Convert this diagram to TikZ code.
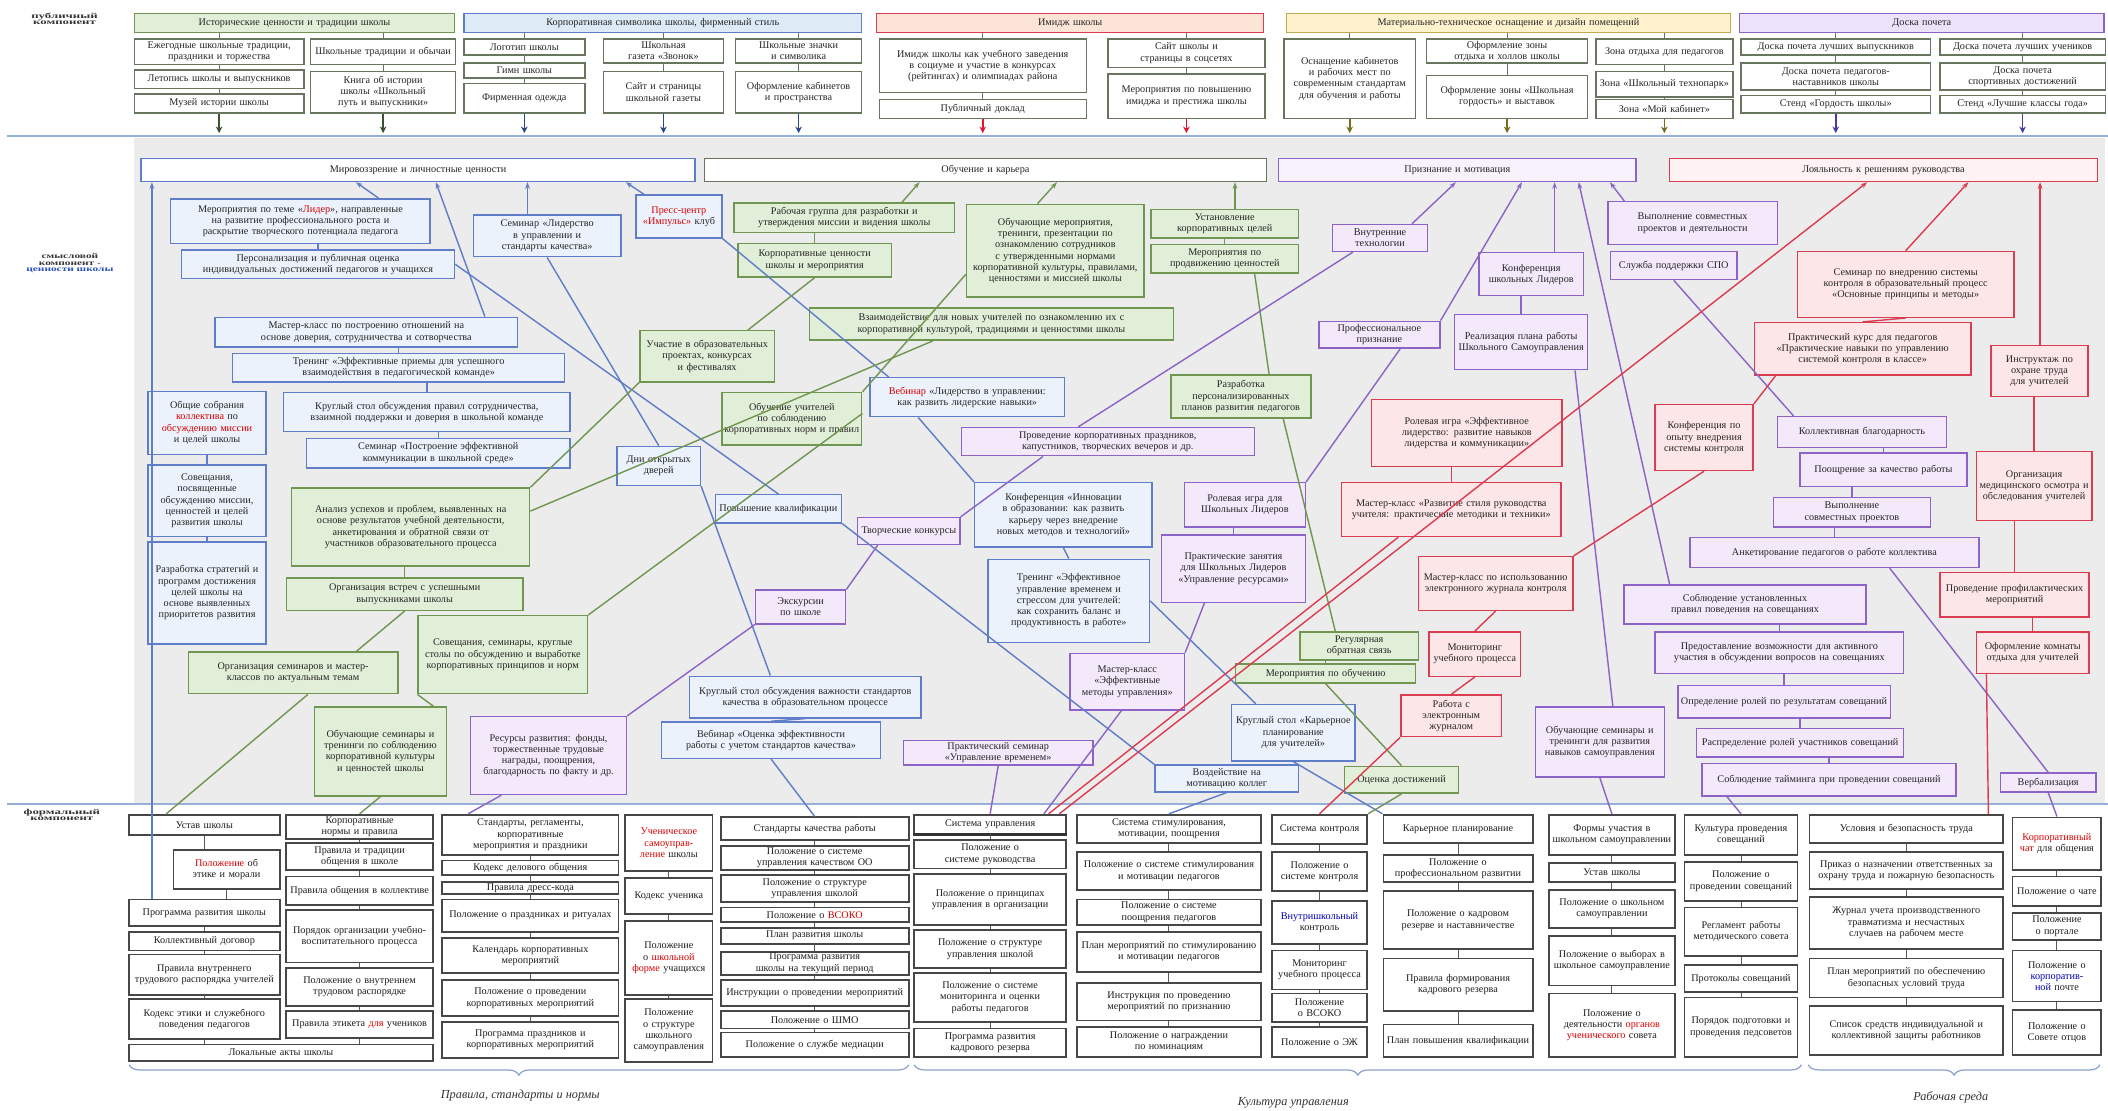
\documentclass[tikz,border=0pt]{standalone}
\usepackage{fontspec}
\setmainfont{Liberation Serif}
\usetikzlibrary{arrows.meta, calc, decorations.pathreplacing}

\definecolor{panel}{RGB}{236,236,236}
\definecolor{sepblue}{RGB}{150,175,215}
\definecolor{blbd}{RGB}{95,125,200}
\definecolor{blfill}{RGB}{235,242,251}
\definecolor{grbd}{RGB}{112,150,82}
\definecolor{grfill}{RGB}{226,239,216}
\definecolor{pubd}{RGB}{140,100,200}
\definecolor{pufill}{RGB}{243,233,250}
\definecolor{rdbd}{RGB}{220,60,80}
\definecolor{rdfill}{RGB}{253,230,232}
\definecolor{subbd}{RGB}{105,118,95}
\definecolor{ylbd}{RGB}{190,170,80}
\definecolor{ylfill}{RGB}{255,242,204}
\definecolor{tbfill}{RGB}{221,235,247}
\definecolor{trfill}{RGB}{252,228,214}
\definecolor{tpfill}{RGB}{236,226,250}
\definecolor{brc}{RGB}{140,160,205}
\definecolor{arGc}{RGB}{60,80,50}
\definecolor{arBc}{RGB}{40,70,140}
\definecolor{arRc}{RGB}{230,20,50}
\definecolor{arYc}{RGB}{120,110,30}
\definecolor{arPc}{RGB}{70,60,160}
\definecolor{lblblue}{RGB}{40,80,190}

\newcommand{\rwd}[1]{\textcolor{red!85!black}{#1}}
\newcommand{\bwd}[1]{\textcolor{blue!70!black}{#1}}

% box from corner (x1,y1) to (x2,y2), picture units
\newcommand{\cbox}[7]{%
  \pgfmathsetmacro{\bxw}{(#5-#3)*1.42264}%
  \pgfmathsetmacro{\bxh}{(#6-#4)*1.42264}%
  \pgfmathsetmacro{\bxt}{(#5-#3)*1.42264-5}%
  \node[#1, minimum width=\bxw pt, minimum height=\bxh pt, text width=\bxt pt]
    (#2) at ({(#3+#5)/2},{(#4+#6)/2}) {#7};}

\begin{document}
\begin{tikzpicture}[x=0.05cm, y=-0.05cm,
  box/.style={draw, line width=1.5pt, inner xsep=2pt, inner ysep=0.5pt, align=center,
    font=\fontsize{10.8}{11.9}\selectfont, text=black!85},
  blbox/.style={box, draw=blbd, fill=blfill},
  grbox/.style={box, draw=grbd, fill=grfill},
  pubox/.style={box, draw=pubd, fill=pufill},
  rdbox/.style={box, draw=rdbd, fill=rdfill},
  sub/.style={box, draw=subbd, fill=white},
  hdG/.style={box, draw=grbd, fill=grfill},
  hdB/.style={box, draw=blbd, fill=tbfill},
  hdR/.style={box, draw=rdbd, fill=trfill},
  hdY/.style={box, draw=ylbd, fill=ylfill},
  hdP/.style={box, draw=pubd, fill=tpfill},
  hmB/.style={box, draw=blbd, fill=white},
  hmG/.style={box, draw=subbd, fill=white},
  hmP/.style={box, draw=pubd, fill=pufill!60},
  hmR/.style={box, draw=rdbd, fill=rdfill!50},
  fbox/.style={box, draw=black!72, line width=1.9pt, fill=white, text=black!88},
  bline/.style={draw=blbd, line width=1.5pt},
  gline/.style={draw=grbd, line width=1.5pt},
  pline/.style={draw=pubd, line width=1.5pt},
  rline/.style={draw=rdbd, line width=1.5pt},
  blarr/.style={bline, -{Stealth[length=7pt,width=5pt]}},
  garr/.style={gline, -{Stealth[length=7pt,width=5pt]}},
  parr/.style={pline, -{Stealth[length=7pt,width=5pt]}},
  rarr/.style={rline, -{Stealth[length=7pt,width=5pt]}},
  tlink/.style={draw=subbd, line width=1pt},
  fline/.style={draw=black!65, line width=1pt},
  arG/.style={draw=arGc, line width=1.6pt, -{Stealth[length=7pt,width=7pt]}},
  arB/.style={draw=arBc, line width=1.6pt, -{Stealth[length=7pt,width=7pt]}},
  arR/.style={draw=arRc, line width=1.6pt, -{Stealth[length=7pt,width=7pt]}},
  arY/.style={draw=arYc, line width=1.6pt, -{Stealth[length=7pt,width=7pt]}},
  arP/.style={draw=arPc, line width=1.6pt, -{Stealth[length=7pt,width=7pt]}},
  sepline/.style={draw=sepblue, line width=2.5pt},
  bracket/.style={draw=brc, line width=1.3pt, decorate,
    decoration={brace, mirror, amplitude=11pt}},
  brlbl/.style={font=\fontsize{13}{13}\selectfont\itshape, text=black!80},
  sidelbl/.style={font=\fontsize{8}{8.6}\selectfont\bfseries, text=black!80, inner sep=0pt}]

\useasboundingbox (0,0) rectangle (1568,826);

% background and bands
\fill[panel] (100,103) rectangle (1566,597);
\draw[sepline] (5,101) -- (1568,101);
\draw[sepline] (5,598) -- (1568,598);

\node[sidelbl] (lpub) at (48,15) {\scalebox{1.7}[1]{\begin{tabular}{@{}c@{}}публичный\\[-2pt]компонент\end{tabular}}};
\node[sidelbl] (lsm) at (52,196) {\scalebox{1.5}[1]{\begin{tabular}{@{}c@{}}смысловой\\[-2pt]компонент -\\[-2pt]\textcolor{lblblue}{ценности школы}\end{tabular}}};
\node[sidelbl] (lfor) at (46,607) {\scalebox{1.7}[1]{\begin{tabular}{@{}c@{}}формальный\\[-2pt]компонент\end{tabular}}};

% ---- public component ----
\cbox{hdG}{T1}{100}{10}{338}{24}{Исторические ценности и традиции школы}
\cbox{sub}{t1a}{100}{29}{226}{48}{Ежегодные школьные традиции, праздники и торжества}
\cbox{sub}{t1b}{100}{52}{226}{66}{Летопись школы и выпускников}
\cbox{sub}{t1c}{100}{70}{226}{84}{Музей истории школы}
\cbox{sub}{t1d}{231}{29}{339}{48}{Школьные традиции и обычаи}
\cbox{sub}{t1e}{231}{53}{339}{84}{Книга об истории школы «Школьный путь и выпускники»}

\cbox{hdB}{T2}{345}{10}{641}{24}{Корпоративная символика школы, фирменный стиль}
\cbox{sub}{t2a}{345}{29}{435}{41}{Логотип школы}
\cbox{sub}{t2b}{345}{47}{435}{58}{Гимн школы}
\cbox{sub}{t2c}{345}{62}{435}{84}{Фирменная одежда}
\cbox{sub}{t2d}{449}{29}{538}{47}{Школьная газета «Звонок»}
\cbox{sub}{t2e}{449}{53}{538}{84}{Сайт и страницы школьной газеты}
\cbox{sub}{t2f}{547}{29}{641}{47}{Школьные значки и символика}
\cbox{sub}{t2g}{547}{53}{641}{84}{Оформление кабинетов и пространства}

\cbox{hdR}{T3}{652}{10}{940}{24}{Имидж школы}
\cbox{sub}{t3a}{654}{29}{808}{69}{Имидж школы как учебного заведения в социуме и участие в конкурсах (рейтингах) и олимпиадах района}
\cbox{sub}{t3b}{654}{74}{808}{88}{Публичный доклад}
\cbox{sub}{t3c}{824}{29}{941}{50}{Сайт школы и страницы в соцсетях}
\cbox{sub}{t3d}{824}{55}{941}{88}{Мероприятия по повышению имиджа и престижа школы}

\cbox{hdY}{T4}{957}{10}{1287}{24}{Материально-техническое оснащение и дизайн помещений}
\cbox{sub}{t4a}{955}{29}{1053}{88}{Оснащение кабинетов и рабочих мест по современным стандартам для обучения и работы}
\cbox{sub}{t4b}{1061}{29}{1181}{47}{Оформление зоны отдыха и холлов школы}
\cbox{sub}{t4c}{1061}{56}{1181}{88}{Оформление зоны «Школьная гордость» и выставок}
\cbox{sub}{t4d}{1187}{29}{1289}{48}{Зона отдыха для педагогов}
\cbox{sub}{t4e}{1187}{53}{1289}{72}{Зона «Школьный технопарк»}
\cbox{sub}{t4f}{1187}{74}{1289}{88}{Зона «Мой кабинет»}

\cbox{hdP}{T5}{1294}{10}{1565}{24}{Доска почета}
\cbox{sub}{t5a}{1295}{29}{1436}{41}{Доска почета лучших выпускников}
\cbox{sub}{t5b}{1295}{47}{1436}{67}{Доска почета педагогов-наставников школы}
\cbox{sub}{t5c}{1295}{71}{1436}{84}{Стенд «Гордость школы»}
\cbox{sub}{t5d}{1443}{29}{1566}{41}{Доска почета лучших учеников}
\cbox{sub}{t5e}{1443}{47}{1566}{67}{Доска почета спортивных достижений}
\cbox{sub}{t5f}{1443}{71}{1566}{84}{Стенд «Лучшие классы года»}

\foreach \u/\v in {T1/t1a,t1a/t1b,t1b/t1c,T1/t1d,t1d/t1e,T2/t2a,t2a/t2b,t2b/t2c,T2/t2d,t2d/t2e,
    T2/t2f,t2f/t2g,T3/t3a,t3a/t3b,T3/t3c,t3c/t3d,T4/t4a,T4/t4b,t4b/t4c,T4/t4d,t4d/t4e,t4e/t4f,
    T5/t5a,t5a/t5b,t5b/t5c,T5/t5d,t5d/t5e,t5e/t5f}
  \draw[tlink] (\v.north) -- (\v.north |- \u.south);

\coordinate (sepT) at (0,99);
\foreach \b/\c in {t1c/arG,t1e/arG,t2c/arB,t2e/arB,t2g/arB,t3b/arR,t3d/arR,
    t4a/arY,t4c/arY,t4f/arY,t5c/arP,t5f/arP}
  \draw[\c] (\b.south) -- (\b.south |- sepT);

% ---- meaning component: headers ----
\cbox{hmB}{H1}{105}{118}{517}{135}{Мировоззрение и личностные ценности}
\cbox{hmG}{H2}{524}{118}{942}{135}{Обучение и карьера}
\cbox{hmP}{H3}{951}{118}{1217}{135}{Признание и мотивация}
\cbox{hmR}{H4}{1242}{118}{1560}{135}{Лояльность к решениям руководства}

\coordinate (h1a) at ($(H1.south west)!.388!(H1.south east)$);
\coordinate (h1b) at ($(H1.south west)!.532!(H1.south east)$);
\coordinate (h1c) at ($(H1.south west)!.697!(H1.south east)$);
\coordinate (h1d) at ($(H1.south west)!.874!(H1.south east)$);
\coordinate (h2a) at ($(H2.south west)!.383!(H2.south east)$);
\coordinate (h2b) at ($(H2.south west)!.627!(H2.south east)$);
\coordinate (h2c) at ($(H2.south west)!.943!(H2.south east)$);
\coordinate (h3a) at ($(H3.south west)!.496!(H3.south east)$);
\coordinate (h3b) at ($(H3.south west)!.680!(H3.south east)$);
\coordinate (h3c) at ($(H3.south west)!.771!(H3.south east)$);
\coordinate (h3d) at ($(H3.south west)!.838!(H3.south east)$);
\coordinate (h3e) at ($(H3.south west)!.925!(H3.south east)$);
\coordinate (h4a) at ($(H4.south west)!.462!(H4.south east)$);
\coordinate (h4b) at ($(H4.south west)!.698!(H4.south east)$);
\coordinate (h4c) at ($(H4.south west)!.865!(H4.south east)$);

% blue
\cbox{blbox}{B1}{127}{148}{320}{181}{Мероприятия по теме «\rwd{Лидер}», направленные на развитие профессионального роста и раскрытие творческого потенциала педагога}
\cbox{blbox}{B2}{135}{186}{338}{207}{Персонализация и публичная оценка индивидуальных достижений педагогов и учащихся}
\cbox{blbox}{B3}{352}{160}{462}{191}{Семинар «Лидерство в управлении и стандарты качества»}
\cbox{blbox}{B4}{473}{145}{537}{177}{\rwd{Пресс-центр} \rwd{«Импульс»} клуб}
\cbox{blbox}{B5}{160}{236}{385}{258}{Мастер-класс по построению отношений на основе доверия, сотрудничества и сотворчества}
\cbox{blbox}{B6}{173}{263}{420}{284}{Тренинг «Эффективные приемы для успешного взаимодействия в педагогической команде»}
\cbox{blbox}{B7}{110}{291}{198}{338}{Общие собрания \rwd{коллектива} по \rwd{обсуждению} \rwd{миссии} и целей школы}
\cbox{blbox}{B8}{211}{292}{424}{321}{Круглый стол обсуждения правил сотрудничества, взаимной поддержки и доверия в школьной команде}
\cbox{blbox}{B9}{228}{326}{424}{348}{Семинар «Построение эффективной коммуникации в школьной среде»}
\cbox{blbox}{B10}{110}{346}{198}{399}{Совещания, посвященные обсуждению миссии, ценностей и целей развития школы}
\cbox{blbox}{B11}{110}{403}{198}{479}{Разработка стратегий и программ достижения целей школы на основе выявленных приоритетов развития}
\cbox{blbox}{B12}{459}{332}{521}{361}{Дни открытых дверей}
\cbox{blbox}{B13}{532}{368}{626}{389}{Повышение квалификации}
\cbox{blbox}{B14}{647}{281}{792}{310}{\rwd{Вебинар} «Лидерство в управлении: как развить лидерские навыки»}
\cbox{blbox}{B15}{725}{359}{857}{407}{Конференция «Инновации в образовании: как развить карьеру через внедрение новых методов и технологий»}
\cbox{blbox}{B16}{735}{416}{855}{478}{Тренинг «Эффективное управление временем и стрессом для учителей: как сохранить баланс и продуктивность в работе»}
\cbox{blbox}{B17}{513}{503}{685}{534}{Круглый стол обсуждения важности стандартов качества в образовательном процессе}
\cbox{blbox}{B18}{492}{537}{655}{564}{Вебинар «Оценка эффективности работы с учетом стандартов качества»}
\cbox{blbox}{B19}{916}{524}{1008}{566}{Круглый стол «Карьерное планирование для учителей»}
\cbox{blbox}{B20}{859}{569}{966}{589}{Воздействие на мотивацию коллег}

% green
\cbox{grbox}{G1}{546}{151}{710}{173}{Рабочая группа для разработки и утверждения миссии и видения школы}
\cbox{grbox}{G2}{549}{181}{663}{206}{Корпоративные ценности школы и мероприятия}
\cbox{grbox}{G3}{719}{152}{851}{221}{Обучающие мероприятия, тренинги, презентации по ознакомлению сотрудников с утвержденными нормами корпоративной культуры, правилами, ценностями и миссией школы}
\cbox{grbox}{G4}{856}{156}{966}{177}{Установление корпоративных целей}
\cbox{grbox}{G5}{856}{182}{966}{203}{Мероприятия по продвижению ценностей}
\cbox{grbox}{G6}{602}{229}{873}{253}{Взаимодействие для новых учителей по ознакомлению их с корпоративной культурой, традициями и ценностями школы}
\cbox{grbox}{G7}{476}{246}{576}{284}{Участие в образовательных проектах, конкурсах и фестивалях}
\cbox{grbox}{G8}{537}{292}{641}{331}{Обучение учителей по соблюдению корпоративных норм и правил}
\cbox{grbox}{G9}{871}{279}{975}{311}{Разработка персонализированных планов развития педагогов}
\cbox{grbox}{G10}{217}{363}{394}{421}{Анализ успехов и проблем, выявленных на основе результатов учебной деятельности, анкетирования и обратной связи от участников образовательного процесса}
\cbox{grbox}{G11}{213}{430}{389}{454}{Организация встреч с успешными выпускниками школы}
\cbox{grbox}{G12}{311}{458}{437}{516}{Совещания, семинары, круглые столы по обсуждению и выработке корпоративных принципов и норм}
\cbox{grbox}{G13}{140}{485}{296}{516}{Организация семинаров и мастер-классов по актуальным темам}
\cbox{grbox}{G14}{234}{526}{332}{592}{Обучающие семинары и тренинги по соблюдению корпоративной культуры и ценностей школы}
\cbox{grbox}{G15}{967}{470}{1055}{491}{Регулярная обратная связь}
\cbox{grbox}{G16}{919}{494}{1053}{508}{Мероприятия по обучению}
\cbox{grbox}{G17}{1000}{570}{1085}{590}{Оценка достижений}

% purple
\cbox{pubox}{P1}{991}{167}{1062}{187}{Внутренние технологии}
\cbox{pubox}{P2}{981}{239}{1071}{259}{Профессиональное признание}
\cbox{pubox}{P3}{1100}{188}{1178}{220}{Конференция школьных Лидеров}
\cbox{pubox}{P4}{1082}{234}{1181}{275}{Реализация плана работы Школьного Самоуправления}
\cbox{pubox}{P5}{1196}{150}{1322}{182}{Выполнение совместных проектов и деятельности}
\cbox{pubox}{P6}{1198}{187}{1292}{208}{Служба поддержки СПО}
\cbox{pubox}{P7}{715}{318}{933}{339}{Проведение корпоративных праздников, капустников, творческих вечеров и др.}
\cbox{pubox}{P8}{638}{385}{714}{405}{Творческие конкурсы}
\cbox{pubox}{P9}{562}{439}{629}{464}{Экскурсии по школе}
\cbox{pubox}{P10}{881}{359}{971}{392}{Ролевая игра для Школьных Лидеров}
\cbox{pubox}{P11}{864}{398}{971}{448}{Практические занятия для Школьных Лидеров «Управление ресурсами»}
\cbox{pubox}{P12}{796}{486}{881}{528}{Мастер-класс «Эффективные методы управления»}
\cbox{pubox}{P13}{672}{551}{813}{569}{Практический семинар «Управление временем»}
\cbox{pubox}{P14}{350}{533}{466}{591}{Ресурсы развития: фонды, торжественные трудовые награды, поощрения, благодарность по факту и др.}
\cbox{pubox}{P15}{1322}{310}{1448}{333}{Коллективная благодарность}
\cbox{pubox}{P16}{1339}{337}{1463}{362}{Поощрение за качество работы}
\cbox{pubox}{P17}{1319}{370}{1436}{392}{Выполнение совместных проектов}
\cbox{pubox}{P18}{1257}{400}{1472}{422}{Анкетирование педагогов о работе коллектива}
\cbox{pubox}{P19}{1208}{435}{1388}{464}{Соблюдение установленных правил поведения на совещаниях}
\cbox{pubox}{P20}{1231}{470}{1416}{501}{Предоставление возможности для активного участия в обсуждении вопросов на совещаниях}
\cbox{pubox}{P21}{1248}{510}{1406}{534}{Определение ролей по результатам совещаний}
\cbox{pubox}{P22}{1262}{542}{1416}{563}{Распределение ролей участников совещаний}
\cbox{pubox}{P23}{1266}{568}{1455}{592}{Соблюдение тайминга при проведении совещаний}
\cbox{pubox}{P24}{1142}{526}{1238}{578}{Обучающие семинары и тренинги для развития навыков самоуправления}
\cbox{pubox}{P25}{1488}{575}{1559}{589}{Вербализация}

% red
\cbox{rdbox}{R1}{1337}{187}{1498}{236}{Семинар по внедрению системы контроля в образовательный процесс «Основные принципы и методы»}
\cbox{rdbox}{R2}{1305}{240}{1466}{279}{Практический курс для педагогов «Практические навыки по управлению системой контроля в классе»}
\cbox{rdbox}{R3}{1481}{257}{1553}{295}{Инструктаж по охране труда для учителей}
\cbox{rdbox}{R4}{1020}{297}{1162}{347}{Ролевая игра «Эффективное лидерство: развитие навыков лидерства и коммуникации»}
\cbox{rdbox}{R5}{1231}{301}{1304}{350}{Конференция по опыту внедрения системы контроля}
\cbox{rdbox}{R6}{998}{359}{1161}{399}{Мастер-класс «Развитие стиля руководства учителя: практические методики и техники»}
\cbox{rdbox}{R7}{1055}{414}{1170}{454}{Мастер-класс по использованию электронного журнала контроля}
\cbox{rdbox}{R8}{1063}{470}{1131}{503}{Мониторинг учебного процесса}
\cbox{rdbox}{R9}{1042}{517}{1117}{548}{Работа с электронным журналом}
\cbox{rdbox}{R10}{1470}{336}{1556}{387}{Организация медицинского осмотра и обследования учителей}
\cbox{rdbox}{R11}{1443}{426}{1554}{459}{Проведение профилактических мероприятий}
\cbox{rdbox}{R12}{1470}{470}{1554}{501}{Оформление комнаты отдыха для учителей}

% ---- formal component ----
\cbox{fbox}{bA1}{96}{606}{208}{621}{Устав школы}
\cbox{fbox}{bA2}{129}{632}{208}{661}{\rwd{Положение} об этике и морали}
\cbox{fbox}{bA3}{96}{669}{208}{689}{Программа развития школы}
\cbox{fbox}{bA4}{96}{693}{208}{707}{Коллективный договор}
\cbox{fbox}{bA5}{96}{710}{208}{740}{Правила внутреннего трудового распорядка учителей}
\cbox{fbox}{bA6}{96}{743}{208}{773}{Кодекс этики и служебного поведения педагогов}
\cbox{fbox}{bAB}{96}{777}{322}{789}{Локальные акты школы}

\cbox{fbox}{bB1}{213}{606}{322}{624}{Корпоративные нормы и правила}
\cbox{fbox}{bB2}{213}{627}{322}{647}{Правила и традиции общения в школе}
\cbox{fbox}{bB3}{213}{652}{322}{673}{Правила общения в коллективе}
\cbox{fbox}{bB4}{213}{677}{322}{716}{Порядок организации учебно-воспитательного процесса}
\cbox{fbox}{bB5}{213}{720}{322}{748}{Положение о внутреннем трудовом распорядке}
\cbox{fbox}{bB6}{213}{752}{322}{772}{Правила этикета \rwd{для} учеников}

\cbox{fbox}{bC1}{329}{606}{460}{636}{Стандарты, регламенты, корпоративные мероприятия и праздники}
\cbox{fbox}{bC2}{329}{640}{460}{651}{Кодекс делового общения}
\cbox{fbox}{bC3}{329}{656}{460}{665}{Правила дресс-кода}
\cbox{fbox}{bC4}{329}{669}{460}{693}{Положение о праздниках и ритуалах}
\cbox{fbox}{bC5}{329}{698}{460}{724}{Календарь корпоративных мероприятий}
\cbox{fbox}{bC6}{329}{729}{460}{756}{Положение о проведении корпоративных мероприятий}
\cbox{fbox}{bC7}{329}{760}{460}{787}{Программа праздников и корпоративных мероприятий}

\cbox{fbox}{bD1}{465}{606}{530}{648}{\rwd{Ученическое} \rwd{самоуправ\-ление} школы}
\cbox{fbox}{bD2}{465}{653}{530}{680}{Кодекс ученика}
\cbox{fbox}{bD3}{465}{685}{530}{740}{Положение о \rwd{школьной} \rwd{форме} учащихся}
\cbox{fbox}{bD4}{465}{743}{530}{790}{Положение о структуре школьного самоуправ\-ления}

\cbox{fbox}{bE1}{536}{608}{676}{625}{Стандарты качества работы}
\cbox{fbox}{bE2}{536}{629}{676}{647}{Положение о системе управления качеством ОО}
\cbox{fbox}{bE3}{536}{651}{676}{671}{Положение о структуре управления школой}
\cbox{fbox}{bE4}{536}{675}{676}{686}{Положение о \rwd{ВСОКО}}
\cbox{fbox}{bE5}{536}{690}{676}{702}{План развития школы}
\cbox{fbox}{bE6}{536}{708}{676}{725}{Программа развития школы на текущий период}
\cbox{fbox}{bE7}{536}{729}{676}{748}{Инструкции о проведении мероприятий}
\cbox{fbox}{bE8}{536}{752}{676}{765}{Положение о ШМО}
\cbox{fbox}{bE9}{536}{768}{676}{786}{Положение о службе медиации}

\cbox{fbox}{bF1}{680}{606}{793}{620}{Система управления}
\draw[line width=3pt, black!80] (bF1.south west) -- (bF1.south east);
\cbox{fbox}{bF2}{680}{625}{793}{646}{Положение о системе руководства}
\cbox{fbox}{bF3}{680}{650}{793}{688}{Положение о принципах управления в организации}
\cbox{fbox}{bF4}{680}{692}{793}{720}{Положение о структуре управления школой}
\cbox{fbox}{bF5}{680}{724}{793}{760}{Положение о системе мониторинга и оценки работы педагогов}
\cbox{fbox}{bF6}{680}{765}{793}{786}{Программа развития кадрового резерва}

\cbox{fbox}{bG1}{801}{606}{938}{627}{Система стимулирования, мотивации, поощрения}
\cbox{fbox}{bG2}{801}{634}{938}{662}{Положение о системе стимулирования и мотивации педагогов}
\cbox{fbox}{bG3}{801}{669}{938}{688}{Положение о системе поощрения педагогов}
\cbox{fbox}{bG4}{801}{693}{938}{723}{План мероприятий по стимулированию и мотивации педагогов}
\cbox{fbox}{bG5}{801}{731}{938}{759}{Инструкция по проведению мероприятий по признанию}
\cbox{fbox}{bG6}{801}{764}{938}{786}{Положение о награждении по номинациям}

\cbox{fbox}{bH1}{946}{606}{1017}{628}{Система контроля}
\cbox{fbox}{bH2}{946}{634}{1017}{663}{Положение о системе контроля}
\cbox{fbox}{bH3}{946}{670}{1017}{702}{\bwd{Внутри\-школьный} контроль}
\cbox{fbox}{bH4}{946}{707}{1017}{736}{Мониторинг учебного процесса}
\cbox{fbox}{bH5}{946}{739}{1017}{760}{Положение о ВСОКО}
\cbox{fbox}{bH6}{946}{764}{1017}{786}{Положение о ЭЖ}

\cbox{fbox}{bI1}{1029}{606}{1140}{627}{Карьерное планирование}
\cbox{fbox}{bI2}{1029}{636}{1140}{656}{Положение о профессиональном развитии}
\cbox{fbox}{bI3}{1029}{663}{1140}{706}{Положение о кадровом резерве и наставничестве}
\cbox{fbox}{bI4}{1029}{713}{1140}{752}{Правила формирования кадрового резерва}
\cbox{fbox}{bI5}{1029}{762}{1140}{786}{План повышения квалификации}

\cbox{fbox}{bJ1}{1152}{606}{1246}{636}{Формы участия в школьном самоуправлении}
\cbox{fbox}{bJ2}{1152}{642}{1246}{656}{Устав школы}
\cbox{fbox}{bJ3}{1152}{662}{1246}{690}{Положение о школьном самоуправлении}
\cbox{fbox}{bJ4}{1152}{696}{1246}{733}{Положение о выборах в школьное самоуправление}
\cbox{fbox}{bJ5}{1152}{739}{1246}{786}{Положение о деятельности \rwd{органов} \rwd{ученического} совета}

\cbox{fbox}{bK1}{1253}{606}{1337}{636}{Культура проведения совещаний}
\cbox{fbox}{bK2}{1253}{641}{1337}{670}{Положение о проведении совещаний}
\cbox{fbox}{bK3}{1253}{675}{1337}{711}{Регламент работы методического совета}
\cbox{fbox}{bK4}{1253}{718}{1337}{738}{Протоколы совещаний}
\cbox{fbox}{bK5}{1253}{742}{1337}{786}{Порядок подготовки и проведения педсоветов}

\cbox{fbox}{bL1}{1346}{606}{1490}{627}{Условия и безопасность труда}
\cbox{fbox}{bL2}{1346}{634}{1490}{661}{Приказ о назначении ответственных за охрану труда и пожарную безопасность}
\cbox{fbox}{bL3}{1346}{667}{1490}{706}{Журнал учета производственного травматизма и несчастных случаев на рабочем месте}
\cbox{fbox}{bL4}{1346}{713}{1490}{742}{План мероприятий по обеспечению безопасных условий труда}
\cbox{fbox}{bL5}{1346}{748}{1490}{785}{Список средств индивидуальной и коллективной защиты работников}

\cbox{fbox}{bM1}{1497}{608}{1563}{647}{\rwd{Корпоратив\-ный} \rwd{чат} для общения}
\cbox{fbox}{bM2}{1497}{652}{1563}{674}{Положение о чате}
\cbox{fbox}{bM3}{1497}{679}{1563}{699}{Положение о портале}
\cbox{fbox}{bM4}{1497}{707}{1563}{745}{Положение о \bwd{корпоратив\-ной} почте}
\cbox{fbox}{bM5}{1497}{751}{1563}{785}{Положение о Совете отцов}

\foreach \u/\v in {bA1/bA2,bA2/bA3,bA3/bA4,bA4/bA5,bA5/bA6,bA6/bAB,
    bB1/bB2,bB2/bB3,bB3/bB4,bB4/bB5,bB5/bB6,bB6/bAB,
    bC1/bC2,bC2/bC3,bC3/bC4,bC4/bC5,bC5/bC6,bC6/bC7,
    bD1/bD2,bD2/bD3,bD3/bD4,
    bE1/bE2,bE2/bE3,bE3/bE4,bE4/bE5,bE5/bE6,bE6/bE7,bE7/bE8,bE8/bE9,
    bF1/bF2,bF2/bF3,bF3/bF4,bF4/bF5,bF5/bF6,
    bG1/bG2,bG2/bG3,bG3/bG4,bG4/bG5,bG5/bG6,
    bH1/bH2,bH2/bH3,bH3/bH4,bH4/bH5,bH5/bH6,
    bI1/bI2,bI2/bI3,bI3/bI4,bI4/bI5,
    bJ1/bJ2,bJ2/bJ3,bJ3/bJ4,bJ4/bJ5,
    bK1/bK2,bK2/bK3,bK3/bK4,bK4/bK5,
    bL1/bL2,bL2/bL3,bL3/bL4,bL4/bL5,
    bM1/bM2,bM2/bM3,bM3/bM4,bM4/bM5}
  \draw[fline] (\u.south) -- (\u.south |- \v.north);

% ---- connectors: blue ----
\coordinate (vL) at (113,0);
\draw[blarr] (vL |- bA3.north) -- (vL |- H1.south);
\draw[blarr] ($(B1.north west)!.8!(B1.north east)$) -- (h1a);
\draw[blarr] ($(B5.north west)!.89!(B5.north east)$) -- (h1b);
\draw[blarr] (B3.north -| h1c) -- (h1c);
\draw[blarr] ($(B4.north west)!.1!(B4.north east)$) -- (h1d);
\draw[bline] (B2.east) -- (B13.north);
\draw[bline] (B13.south east) -- (B20.north west);
\draw[bline] (B3.south) -- (B12.north);
\draw[bline] (B12.south east) -- ($(B17.north west)!.35!(B17.north east)$);
\draw[bline] (B17.south) -- (B18.north);
\draw[bline] (B18.south) -- (bE1.north);
\draw[bline] (B4.south east) -- ($(B14.north west)!.1!(B14.north east)$);
\draw[bline] ($(B14.south west)!.25!(B14.south east)$) -- (B15.north west);
\draw[bline] (B15.south) -- (B16.north);
\draw[bline] (B16.east) -- ($(B19.north west)!.2!(B19.north east)$);
\draw[bline] (B19.south) -- (bI1.north west);
\draw[bline] (B20.south) -- (bG1.north);
\foreach \u/\v in {B1/B2,B5/B6,B6/B8,B8/B9,B7/B10,B10/B11}
  \draw[bline] (\v.north) -- (\v.north |- \u.south);

% green
\draw[garr] ($(G1.north west)!.76!(G1.north east)$) -- (h2a);
\draw[garr] ($(G3.north west)!.4!(G3.north east)$) -- (h2b);
\draw[garr] (G4.north -| h2c) -- (h2c);
\draw[gline] (G2.north) -- (G2.north |- G1.south);
\draw[gline] (G5.north) -- (G5.north |- G4.south);
\draw[gline] (G2.south) -- ($(G7.north west)!.8!(G7.north east)$);
\draw[gline] ($(G3.north west)!.75!(G3.south west)$) -- (G8.north east);
\draw[gline] ($(G8.north east)!.4!(G8.south east)$) -- (G12.north east);
\draw[gline] (G7.south west) -- (G10.north east);
\draw[gline] ($(G6.south west)!.34!(G6.south east)$) -- ($(G10.north east)!.3!(G10.south east)$);
\draw[gline] (G11.north) -- (G11.north |- G10.south);
\draw[gline] (G11.south) -- ($(G13.north west)!.8!(G13.north east)$);
\draw[gline] ($(G13.south west)!.57!(G13.south east)$) -- ($(bA1.north west)!.25!(bA1.north east)$);
\draw[gline] (G12.south west) -- ($(G14.north west)!.9!(G14.north east)$);
\draw[gline] (G14.south) -- (bB1.north);
\draw[gline] ($(G5.south west)!.7!(G5.south east)$) -- ($(G9.north west)!.7!(G9.north east)$);
\draw[gline] ($(G9.south west)!.8!(G9.south east)$) -- ($(G15.north west)!.3!(G15.north east)$);
\draw[gline] (G16.north) -- (G16.north |- G15.south);
\draw[gline] (G16.south) -- (G17.north);
\draw[gline] (G17.south) -- (bH1.north east);

% purple
\draw[parr] ($(P1.north west)!.83!(P1.north east)$) -- (h3a);
\draw[parr] (P2.north east) -- (h3b);
\draw[parr] (P3.north -| h3c) -- (h3c);
\draw[parr] ($(P19.north west)!.19!(P19.north east)$) -- (h3d);
\draw[parr] ($(P5.north west)!.1!(P5.north east)$) -- (h3e);
\draw[pline] ($(P1.south west)!.22!(P1.south east)$) -- ($(P7.north west)!.4!(P7.north east)$);
\draw[pline] ($(P2.south west)!.67!(P2.south east)$) -- (P10.north east);
\draw[pline] (P4.north) -- (P4.north |- P3.south);
\draw[pline] ($(P4.south west)!.9!(P4.south east)$) -- ($(P24.north west)!.6!(P24.north east)$);
\draw[pline] (P24.south) -- (bJ1.north);
\draw[pline] (P6.south) -- ($(P15.north west)!.1!(P15.north east)$);
\draw[pline] ($(P18.south west)!.69!(P18.south east)$) -- (P25.north);
\draw[pline] (P25.south) -- (bM1.north);
\foreach \u/\v in {P15/P16,P16/P17,P17/P18,P19/P20,P20/P21,P21/P22,P22/P23,P10/P11}
  \draw[pline] (\v.north) -- (\v.north |- \u.south);
\draw[pline] ($(P23.south west)!.1!(P23.south east)$) -- (bK1.north);
\draw[pline] ($(P7.south west)!.28!(P7.south east)$) -- (P8.north east);
\draw[pline] ($(P8.south west)!.2!(P8.south east)$) -- (P9.north east);
\draw[pline] (P9.south west) -- (P14.north east);
\draw[pline] ($(P14.south west)!.2!(P14.south east)$) -- ($(bC1.north west)!.15!(bC1.north east)$);
\draw[pline] ($(P11.south west)!.3!(P11.south east)$) -- (P12.north east);
\draw[pline] ($(P12.south west)!.45!(P12.south east)$) -- ($(bF1.north west)!.85!(bF1.north east)$);
\draw[pline] (P13.south) -- (bF1.north);

% red
\draw[rarr] ($(bF1.north west)!.95!(bF1.north east)$) -- (h4a);
\draw[rline] ($(R6.south west)!.26!(R6.south east)$) -- ($(bF1.north west)!.88!(bF1.north east)$);
\draw[rline] (R6.north) -- (R6.north |- R4.south);
\draw[rarr] (R1.north) -- (h4b);
\draw[rline] (R2.north) -- (R1.south);
\draw[rline] ($(R2.south west)!.1!(R2.south east)$) -- (R5.north east);
\draw[rline] (R5.south) -- (R7.north east);
\draw[rline] (R7.south) -- (R8.north);
\draw[rline] (R8.south) -- (R9.north);
\draw[rline] (R9.south west) -- (bH1.north);
\draw[rarr] (R3.north -| h4c) -- (h4c);
\foreach \u/\v in {R3/R10,R10/R11,R11/R12}
  \draw[rline] (\v.north) -- (\v.north |- \u.south);
\draw[rline] ($(R12.south west)!.095!(R12.south east)$) -- ($(bL1.north west)!.92!(bL1.north east)$);

% braces
\draw[bracket] (96,792) -- (676,792);
\draw[bracket] (680,792) -- (1340,792);
\draw[bracket] (1345,792) -- (1562,792);
\node[brlbl] (nrm) at (387,815) {Правила, стандарты и нормы};
\node[brlbl] (cul) at (962,820) {Культура управления};
\node[brlbl] (wrk) at (1451,816) {Рабочая среда};

\end{tikzpicture}
\end{document}
